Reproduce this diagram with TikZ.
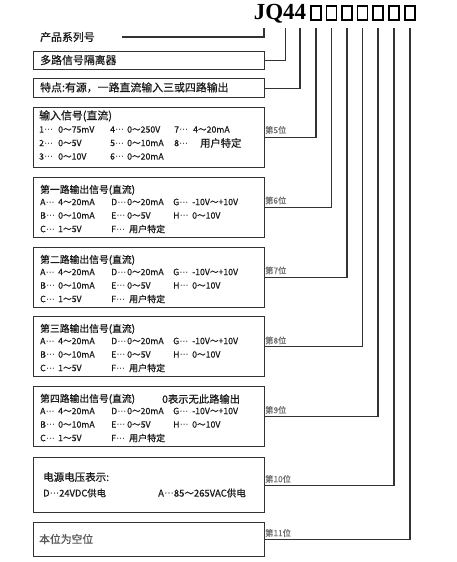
\documentclass[tikz,border=0pt]{standalone}
\usepackage{fontspec}
\setmainfont{Noto Sans CJK SC}[FakeBold=0.6]
\newfontfamily\jqfont{Liberation Serif}
\newfontfamily\dvf{DejaVu Sans}
\definecolor{linec}{HTML}{333333}
\definecolor{txtc}{HTML}{1A1A1A}
\definecolor{posc}{HTML}{6E6E6E}
\newcounter{tn}
\newcommand\dd{{\dvf\kern0.4pt ⋯}}
\newcommand\cv[5]{%
 \stepcounter{tn}\edef\nm{c\arabic{tn}}\node[rw] (\nm) at (#1,#3) {#4\dd};
 \stepcounter{tn}\edef\nm{c\arabic{tn}}\node[rw] (\nm) at (#2,#3) {#5};}
\newcommand\outrows[1]{%
 \cv{40}{58}{#1+25}{A}{4～20mA}
 \cv{111}{127}{#1+25}{D}{0～20mA}
 \cv{173}{192}{#1+25}{G}{-10V～+10V}
 \cv{40}{58}{#1+38.5}{B}{0～10mA}
 \cv{111}{127}{#1+38.5}{E}{0～5V}
 \cv{173}{192}{#1+38.5}{H}{0～10V}
 \cv{40}{58}{#1+52}{C}{1～5V}
 \cv{111}{129}{#1+52}{F}{\fontsize{9}{10}\selectfont 用户特定}}
\begin{document}
\begin{tikzpicture}[x=1pt,y=-1pt,
  box/.style={draw=linec, line width=1.2pt, minimum width=231pt, anchor=north west, inner sep=0pt, fill=white},
  conn/.style={draw=linec, line width=1.1pt},
  dig/.style={draw=black, line width=1.3pt, minimum width=10pt, minimum height=14pt, inner sep=0pt},
  hd/.style={anchor=west, font=\fontsize{9.8}{12}\selectfont, inner sep=0pt, text=txtc},
  bighd/.style={hd, font=\fontsize{10.9}{12}\selectfont},
  rw/.style={anchor=west, font=\fontsize{8.7}{10}\selectfont, inner sep=0pt, text=txtc},
  poslab/.style={anchor=south west, font=\fontsize{8.3}{9}\selectfont, inner sep=0pt, text=posc}]
\useasboundingbox (0,0) rectangle (456,562);
\fill[white] (0,0) rectangle (456,562);
% top code
\node[font=\jqfont\bfseries\fontsize{23}{24}\selectfont, inner sep=0pt, text=black] (jq) at (280,13.5) {JQ44};
\foreach \n/\x in {5/316,6/331.5,7/347,8/362.5,9/378,10/394,11/410}{
  \node[dig] (d\n) at (\x,13) {};
  \coordinate (t\n) at (\x,28);
}
\coordinate (t1) at (264,28);
\coordinate (t2) at (285.5,28);
\coordinate (t3) at (300,28);
% series
\node[bighd] (ser) at (40,37) {产品系列号};
\coordinate (sers) at (122,37);
\draw[conn] (sers) -| (t1);
% box 1,2
\node[box, minimum height=18pt] (b1) at (33,51) {};
\node[bighd] (b1t) at (40,60) {多路信号隔离器};
\draw[conn] (b1.east) -| (t2);
\node[box, minimum height=19pt] (b2) at (33,78) {};
\node[bighd] (b2t) at (40,87.5) {特点:有源，一路直流输入三或四路输出};
\draw[conn] (b2.east) -| (t3);
% box 5 input
\node[box, minimum height=60pt] (b5) at (33,107) {};
\node[bighd] (b5t) at (39,116) {输入信号(直流)};
\cv{39}{58}{129.5}{1}{0～75mV}
\cv{110}{127}{129.5}{4}{0～250V}
\cv{174}{193}{129.5}{7}{4～20mA}
\cv{39}{58}{143}{2}{0～5V}
\cv{110}{127}{143}{5}{0～10mA}
\cv{174}{200}{143}{8}{\fontsize{10.3}{11}\selectfont 用户特定}
\cv{39}{58}{156.5}{3}{0～10V}
\cv{110}{127}{156.5}{6}{0～20mA}
\draw[conn] (b5.east) -| (t5);
\node[poslab] (p5) at (265,134) {第5位};
% output boxes
\node[box, minimum height=60pt] (b6) at (33,177) {};
\node[hd] (b6t) at (40,190) {第一路输出信号(直流)};
\outrows{177}
\draw[conn] (b6.east) -| (t6);
\node[poslab] (p6) at (265,204.5) {第6位};
\node[box, minimum height=60pt] (b7) at (33,247) {};
\node[hd] (b7t) at (40,260) {第二路输出信号(直流)};
\outrows{247}
\draw[conn] (b7.east) -| (t7);
\node[poslab] (p7) at (265,274.5) {第7位};
\node[box, minimum height=60pt] (b8) at (33,316) {};
\node[hd] (b8t) at (40,329) {第三路输出信号(直流)};
\outrows{316}
\draw[conn] (b8.east) -| (t8);
\node[poslab] (p8) at (265,344.5) {第8位};
\node[box, minimum height=60pt] (b9) at (33,386) {};
\node[hd] (b9t) at (40,399) {第四路输出信号(直流)};
\node[hd, font=\fontsize{10.3}{12}\selectfont] (b9u) at (162,399) {0表示无此路输出};
\outrows{386}
\draw[conn] (b9.east) -| (t9);
\node[poslab] (p9) at (265,414) {第9位};
% power
\node[box, minimum height=55pt] (b10) at (33,457) {};
\node[hd, font=\fontsize{10.5}{12}\selectfont] (b10t) at (43,477) {电源电压表示:};
\node[hd, font=\fontsize{9.3}{11}\selectfont] (b10a) at (43,493) {D\dd 24VDC供电};
\node[hd, font=\fontsize{9.5}{11}\selectfont] (b10b) at (158,493) {A\dd 85～265VAC供电};
\draw[conn] (b10.east) -| (t10);
\node[poslab] (p10) at (265,483) {第10位};
% blank
\node[box, minimum height=34pt] (b11) at (33,522) {};
\node[hd, font=\fontsize{10.8}{12}\selectfont, text=black!65] (b11t) at (39,539) {本位为空位};
\draw[conn] (b11.east) -| (t11);
\node[poslab] (p11) at (265,537) {第11位};
\end{tikzpicture}
\end{document}
